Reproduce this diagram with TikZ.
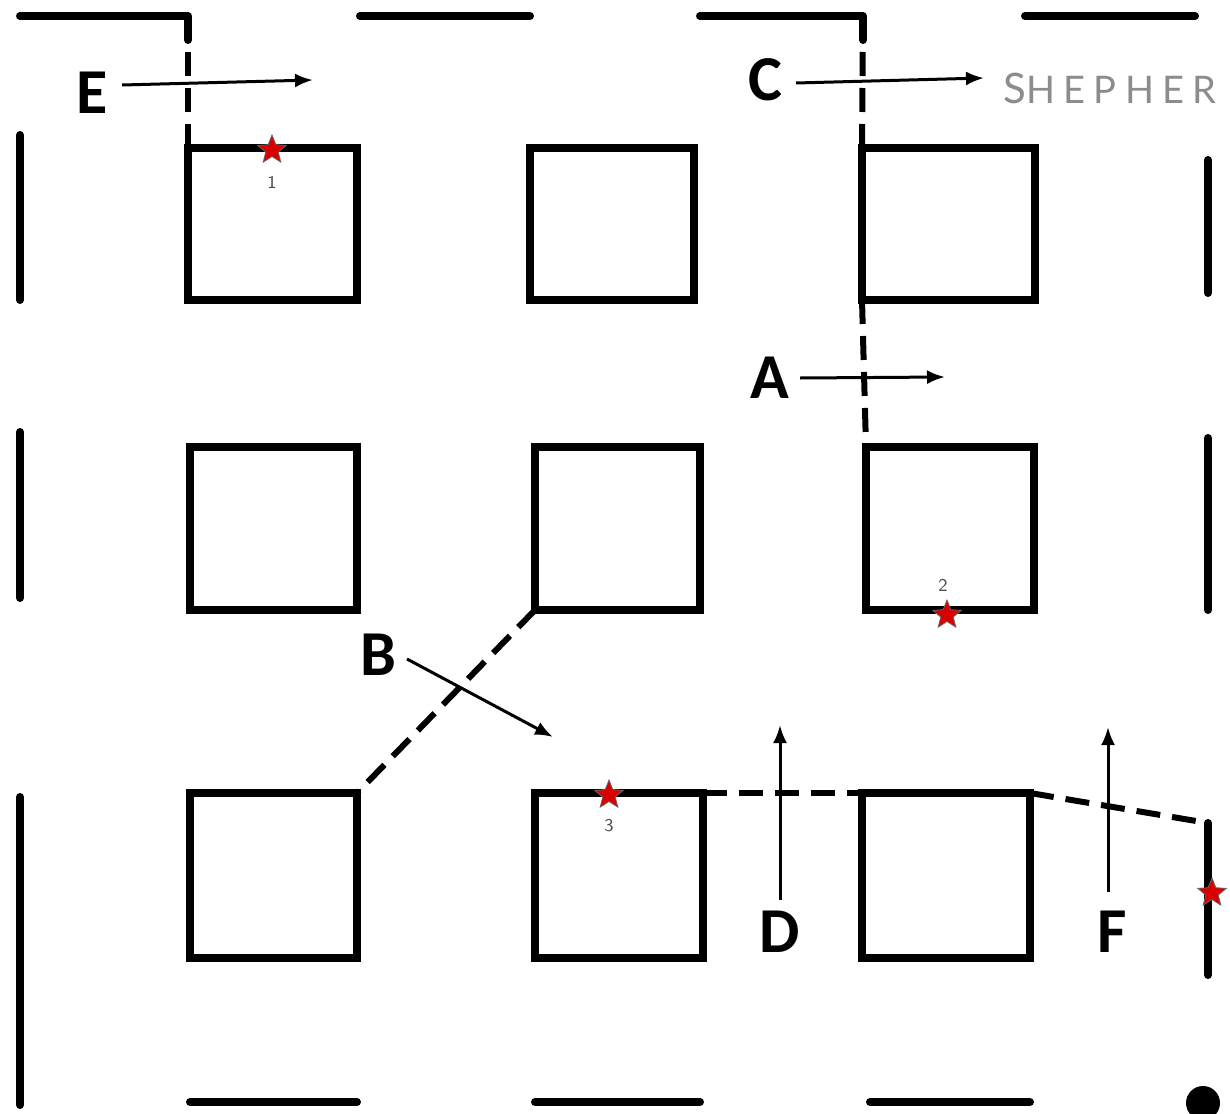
\documentclass[tikz,border=0pt]{standalone}
\usepackage{fontspec}
\newfontfamily\lblfont{Carlito}
\newfontfamily\shfont{Lato}
\usetikzlibrary{shapes.geometric,arrows.meta}
\begin{document}
\begin{tikzpicture}[x=0.5pt,y=-0.5pt,
  wall/.style={line width=4pt,line cap=round,line join=round},
  room/.style={draw,line width=4pt,rectangle,inner sep=0pt,outer sep=0pt},
  door/.style={line width=3pt,dash pattern=on 12pt off 6pt},
  arr/.style={line width=1.5pt,-{Latex[length=9pt,width=7pt]}},
  lbl/.style={font=\lblfont\bfseries\fontsize{32}{34}\selectfont,inner sep=0pt},
  starmark/.style={star,star points=5,star point ratio=2.3,minimum size=15pt,inner sep=0pt,fill=red!85!black,draw=black!60,line width=0.4pt},
  num/.style={font=\sffamily\fontsize{9}{10}\selectfont,text=black!70,inner sep=0pt}]
\useasboundingbox (0,0) rectangle (1230,1113);
\fill[white] (0,0) rectangle (1230,1113);

% rooms
\node[room,minimum width=84.5pt,minimum height=76pt] (b11) at (272.5,224) {};
\node[room,minimum width=82pt,minimum height=76pt] (b12) at (612,224) {};
\node[room,minimum width=86.5pt,minimum height=76pt] (b13) at (948.5,224) {};
\node[room,minimum width=83.5pt,minimum height=81.5pt] (b21) at (273.5,528.5) {};
\node[room,minimum width=82.5pt,minimum height=81.5pt] (b22) at (617.5,528.5) {};
\node[room,minimum width=84pt,minimum height=81.5pt] (b23) at (950,528.5) {};
\node[room,minimum width=83.5pt,minimum height=82.5pt] (b31) at (273.5,875.5) {};
\node[room,minimum width=84pt,minimum height=82.5pt] (b32) at (619,875.5) {};
\node[room,minimum width=84pt,minimum height=82.5pt] (b33) at (946,875.5) {};

% outer walls
\coordinate (tw1) at (188,16);
\coordinate (tw3) at (863,16);
\coordinate (rw3) at (1208,823);
\draw[wall] (20,16) -- (tw1) -- (188,40);
\draw[wall] (360,16) -- (530,16);
\draw[wall] (700,16) -- (tw3) -- (863,40);
\draw[wall] (1025,16) -- (1195,16);
\draw[wall] (20,135) -- (20,300);
\draw[wall] (20,432) -- (20,598);
\draw[wall] (20,797) -- (20,1105);
\draw[wall] (1208,160) -- (1208,293);
\draw[wall] (1208,438) -- (1208,610);
\draw[wall] (rw3) -- (1208,975);
\draw[wall] (190,1102) -- (357,1102);
\draw[wall] (535,1102) -- (700,1102);
\draw[wall] (870,1102) -- (1030,1102);
\fill (1203,1103) circle (8.5pt);

% dashed paths
\draw[door] (tw1) -- (b11.north west);
\draw[door] (tw3) -- (b13.north west);
\draw[door] (b13.south west) -- (b23.north west);
\draw[door] (b22.south west) -- (b31.north east);
\draw[door] (b32.north east) -- (b33.north west);
\draw[door] (b33.north east) -- (rw3);

% labels and arrows
\node[lbl] (E) at (92,93) {E};
\node[lbl] (C) at (765,80) {C};
\node[lbl] (A) at (770,378) {A};
\node[lbl] (B) at (378,655) {B};
\node[lbl] (D) at (780,932) {D};
\node[lbl] (F) at (1112,932) {F};
\coordinate (E0) at (122,85);  \coordinate (E1) at (313,80);
\coordinate (C0) at (796,83);  \coordinate (C1) at (984,78);
\coordinate (A0) at (800,378); \coordinate (A1) at (945,377);
\coordinate (B0) at (407,659); \coordinate (B1) at (553,737);
\coordinate (D0) at (780,900); \coordinate (D1) at (780,725);
\coordinate (F0) at (1108,892); \coordinate (F1) at (1108,727);
\draw[arr] (E0) -- (E1);
\draw[arr] (C0) -- (C1);
\draw[arr] (A0) -- (A1);
\draw[arr] (B0) -- (B1);
\draw[arr] (D0) -- (D1);
\draw[arr] (F0) -- (F1);

\node[anchor=base west,inner sep=0pt,text=black!45] (shep) at (1003,104)
  {\shfont\addfontfeature{LetterSpace=22}\fontsize{21}{23}\selectfont S\fontsize{19}{21}\selectfont HEPHER};

% stars
\node[starmark] (s1) at (272,150) {};
\node[num] (n1) at (272,182) {1};
\node[starmark] (s2) at (947,615) {};
\node[num] (n2) at (943,585) {2};
\node[starmark] (s3) at (609,795) {};
\node[num] (n3) at (609,826) {3};
\node[starmark] (s4) at (1212,893) {};
\end{tikzpicture}
\end{document}
